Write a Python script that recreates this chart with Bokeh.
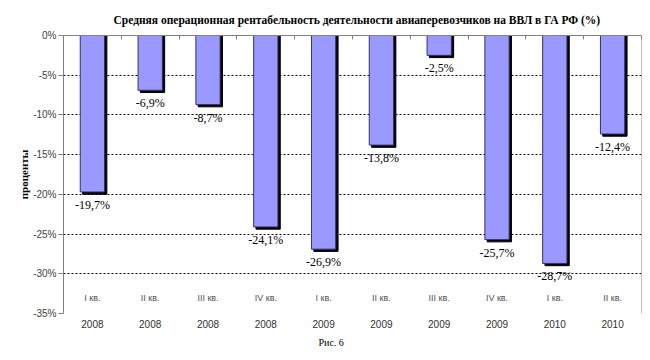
from bokeh.plotting import figure
from bokeh.models import (Range1d, FixedTicker, LinearAxis, Span, ColumnDataSource, Title)
from bokeh.core.properties import value
from bokeh.embed import file_html
from bokeh.resources import INLINE

quarters = ["I кв.", "II кв.", "III кв.", "IV кв.", "I кв.", "II кв.", "III кв.", "IV кв.", "I кв.", "II кв."]
years = ["2008", "2008", "2008", "2008", "2009", "2009", "2009", "2009", "2010", "2010"]
values = [-19.7, -6.9, -8.7, -24.1, -26.9, -13.8, -2.5, -25.7, -28.7, -12.4]
y_ticks = [0, -5, -10, -15, -20, -25, -30, -35]

n = len(values)
xc = [i + 0.5 for i in range(n)]
labels = [("%.1f%%" % v).replace(".", ",") for v in values]

src = ColumnDataSource(dict(
    x=xc, v=values, xs=[x + 0.04 for x in xc], vs=[v - 0.28 for v in values],
    lab=labels, q=quarters, qy=[-33.0] * n,
))

p = figure(width=642, height=352, output_backend="svg", toolbar_location=None,
           x_range=Range1d(0, n), y_range=Range1d(-35, 0),
           min_border_left=63, min_border_right=1, min_border_top=35, min_border_bottom=0,
           x_axis_type=None,
           title="Средняя операционная рентабельность деятельности авиаперевозчиков на ВВЛ в ГА РФ (%)")
p.outline_line_color = None
p.background_fill_color = "white"
p.border_fill_color = "white"
p.title.align = "left"
p.title.offset = 50
p.title.vertical_align = "top"
p.title.text_font = "Liberation Serif"
p.title.text_font_size = "11.5px"
p.title.text_font_style = "bold"
p.title.text_color = "black"
p.title.standoff = 16

# grid
p.ygrid.ticker = FixedTicker(ticks=y_ticks)
p.ygrid.grid_line_color = "black"
p.ygrid.grid_line_dash = "2 2"
p.ygrid.grid_line_width = 1
p.xgrid.visible = False

# y axis
yax = p.yaxis[0]
yax.ticker = FixedTicker(ticks=y_ticks)
yax.major_label_overrides = {t: "%d%%" % t for t in y_ticks}
yax.axis_line_color = "#808080"
yax.major_tick_line_color = "#808080"
yax.major_tick_out = 5
yax.major_tick_in = 0
yax.minor_tick_line_color = None
yax.major_label_text_font = "Liberation Sans"
yax.major_label_text_font_size = "10px"
yax.major_label_text_color = "#404040"
yax.major_label_standoff = 2
yax.axis_label = "проценты"
yax.axis_label_text_font = "Liberation Serif"
yax.axis_label_text_font_style = "bold"
yax.axis_label_text_font_size = "11px"
yax.axis_label_text_color = "black"
yax.axis_label_standoff = 0

# bottom axis with year labels
bax = LinearAxis(ticker=FixedTicker(ticks=xc),
                 major_label_overrides={x: y for x, y in zip(xc, years)})
bax.axis_line_color = None
bax.major_tick_line_color = None
bax.minor_tick_line_color = None
bax.major_label_text_font = "Liberation Sans"
bax.major_label_text_font_size = "10px"
bax.major_label_text_color = "#303030"
bax.major_label_standoff = 0
p.add_layout(bax, "below")

cap = Title(text="Рис. 6", align="left", offset=255, text_font="Liberation Serif", text_font_size="10px",
            text_font_style="normal", text_color="black", standoff=9)
p.add_layout(cap, "below")

# top axis at 0% with ticks at category boundaries
tax = LinearAxis(ticker=FixedTicker(ticks=list(range(n + 1))))
tax.axis_line_color = "#808080"
tax.major_tick_line_color = "#808080"
tax.major_tick_in = 4
tax.major_tick_out = 0
tax.minor_tick_line_color = None
tax.major_label_text_font_size = "0px"
tax.major_label_text_alpha = 0
tax.major_label_standoff = 0
p.add_layout(tax, "above")

p.add_layout(Span(location=n, dimension="height", line_color="#808080", line_width=1))

# bars: shadow then face
p.vbar(x="xs", top=0, bottom="vs", width=0.42, source=src, fill_color="black", line_color="black")
p.vbar(x="x", top=0, bottom="v", width=0.42, source=src, fill_color="#9999FF", line_color="#333366", line_width=1)

# data labels
p.text(x="x", y="v", text="lab", source=src, text_align="center", text_baseline="top",
       y_offset=6, text_font=value("Liberation Serif"), text_font_size="12px", text_color="black")

# quarter labels
p.text(x="x", y="qy", text="q", source=src, text_align="center", text_baseline="middle",
       text_font=value("Liberation Sans"), text_font_size="9px", text_color="#505050")

open("out.html", "w").write(file_html(p, INLINE))
